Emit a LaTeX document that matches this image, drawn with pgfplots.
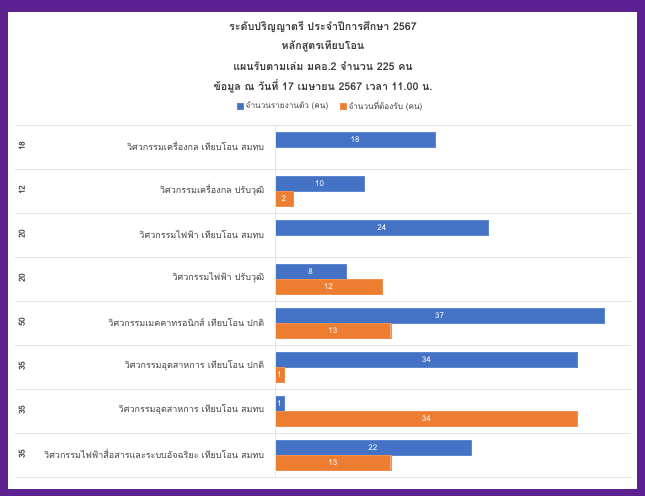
\documentclass[border=0pt]{standalone}
\usepackage{fontspec}
\setmainfont[Script=Thai]{Loma}
\usepackage{pgfplots}
\pgfplotsset{compat=1.18}
\definecolor{xblue}{HTML}{4472C4}
\definecolor{xorange}{HTML}{ED7D31}
\definecolor{xpurple}{RGB}{91,33,145}
\definecolor{sepgray}{HTML}{E4E4E4}
\definecolor{txtgray}{HTML}{3A3A3A}
\definecolor{labgray}{HTML}{404040}
\begin{document}
\begin{tikzpicture}
\path[use as bounding box] (0pt,0pt) rectangle (645pt,496pt);
\fill[xpurple] (0pt,0pt) rectangle (645pt,496pt);
\fill[white] (8pt,7pt) rectangle (637pt,484pt);
\begin{scope}[every node/.style={font=\bfseries\fontsize{10.7}{12}\selectfont, text=txtgray, anchor=center}]
\node at (323pt,469pt) {ระดับปริญญาตรี ประจำปีการศึกษา 2567};
\node at (323pt,450pt) {หลักสูตรเทียบโอน};
\node at (323pt,430pt) {แผนรับตามเล่ม มคอ.2 จำนวน 225 คน};
\node at (323pt,410pt) {ข้อมูล ณ วันที่ 17 เมษายน 2567 เวลา 11.00 น.};
\end{scope}
\begin{axis}[
  at={(275pt,19pt)}, anchor=south west,
  width=356pt, height=352pt, scale only axis,
  xbar, xmin=0, xmax=40, ymin=-0.5, ymax=7.5, y dir=reverse,
  bar width=0.34,
  /pgf/number format/assume math mode=true,
  axis line style={draw=none},
  xtick=\empty,
  ytick={0,...,7},
  yticklabels={
    วิศวกรรมเครื่องกล เทียบโอน สมทบ,
    วิศวกรรมเครื่องกล ปรับวุฒิ,
    วิศวกรรมไฟฟ้า เทียบโอน สมทบ,
    วิศวกรรมไฟฟ้า ปรับวุฒิ,
    วิศวกรรมเมคคาทรอนิกส์ เทียบโอน ปกติ,
    วิศวกรรมอุตสาหการ เทียบโอน ปกติ,
    วิศวกรรมอุตสาหการ เทียบโอน สมทบ,
    วิศวกรรมไฟฟ้าสื่อสารและระบบอัจฉริยะ เทียบโอน สมทบ},
  yticklabel style={font=\fontsize{9}{10}\selectfont, text=labgray, xshift=-3pt, yshift=1pt},
  ytick style={draw=none},
  extra y ticks={0,...,7},
  extra y tick labels={18,12,20,20,50,35,35,35},
  extra y tick style={yticklabel style={xshift=-246pt, rotate=90, anchor=center, font=\bfseries\fontsize{8.5}{10}\selectfont}},
  clip=false,
  legend columns=2,
  legend style={at={(rel axis cs:0.157,1.054)}, anchor=center, draw=none, fill=none,
    font=\fontsize{8.2}{9}\selectfont, text=labgray,
    /tikz/every even column/.append style={column sep=10pt}},
  legend image code/.code={\fill[#1] (0pt,-3pt) rectangle (6pt,3pt);},
  nodes near coords,
  visualization depends on={x \as \rawx},
  every node near coord/.append style={font=\fontsize{8}{9}\selectfont, text=white, anchor=center,
    shift={(axis direction cs:-\rawx/2,0)}},
]
\addplot[fill=xblue, draw=xblue!85!white, line width=0.3pt, bar shift=-0.17] coordinates {
  (18,0) (10,1) (24,2) (8,3) (37,4) (34,5) (1,6) (22,7)};
\addlegendentry{จำนวนรายงานตัว (คน)}
\addplot[fill=xorange, draw=xorange!85!white, line width=0.3pt, bar shift=0.17] coordinates {
  (2,1) (12,3) (13,4) (1,5) (34,6) (13,7)};
\addlegendentry{จำนวนที่ต้องรับ (คน)}
\pgfplotsinvokeforeach{-0.5,0.5,1.5,2.5,3.5,4.5,5.5,6.5,7.5}{
  \draw[sepgray] ([xshift=-260pt]axis cs:0,#1) -- (axis cs:40,#1);
}
\draw[sepgray] (axis cs:0,-0.5) -- (axis cs:0,7.5);
\end{axis}
\end{tikzpicture}
\end{document}
